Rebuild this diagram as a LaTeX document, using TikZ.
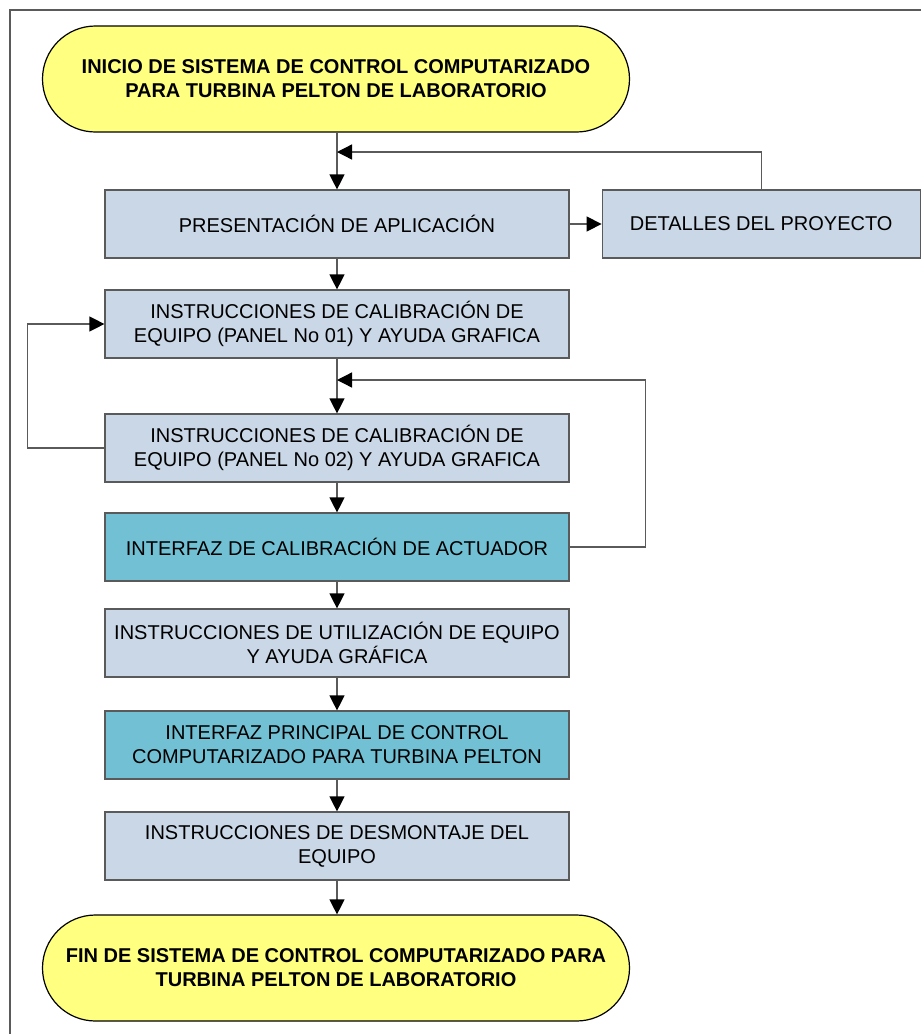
\documentclass[tikz,border=0pt]{standalone}
\usepackage{fontspec}
\setmainfont{Liberation Sans}
\usetikzlibrary{arrows.meta,positioning}

\definecolor{termyellow}{RGB}{255,255,128}
\definecolor{stepgray}{RGB}{202,215,230}
\definecolor{stepteal}{RGB}{114,192,212}
\definecolor{edgegray}{RGB}{90,90,90}

\tikzset{
  terminal/.style={draw=black, line width=1.2pt, fill=termyellow, rounded corners=53pt,
    minimum width=587pt, minimum height=106pt, align=center,
    font=\fontsize{20}{24}\selectfont\bfseries},
  stepbox/.style={draw=edgegray, line width=1.2pt, fill=stepgray,
    minimum width=464pt, minimum height=68pt, align=center,
    font=\fontsize{20}{24}\selectfont},
  interfaz/.style={stepbox, fill=stepteal},
  flow/.style={draw=edgegray, line width=1.3pt, -{Triangle[length=15pt,width=15pt,black]}},
  plain/.style={draw=edgegray, line width=1.3pt}
}

\begin{document}
\begin{tikzpicture}[x=1pt,y=-1pt]
\useasboundingbox (0,0) rectangle (921,1034);
\fill[white] (0,0) rectangle (921,1034);
\draw[edgegray, line width=1.5pt] (921,10) -- (10,10) -- (10,1034);

% main column
\node[terminal] (inicio) at (336,79) {INICIO DE SISTEMA DE CONTROL COMPUTARIZADO\\PARA TURBINA PELTON DE LABORATORIO};
\node[stepbox] (present) at (337,224) {PRESENTACIÓN DE APLICACIÓN};
\node[stepbox, minimum width=318pt, right=32pt of present] (detalles) {DETALLES DEL PROYECTO};
\node[stepbox] (panel1) at (337,324) {INSTRUCCIONES DE CALIBRACIÓN DE\\EQUIPO (PANEL No 01) Y AYUDA GRAFICA};
\node[stepbox] (panel2) at (337,448) {INSTRUCCIONES DE CALIBRACIÓN DE\\EQUIPO (PANEL No 02) Y AYUDA GRAFICA};
\node[interfaz] (actuador) at (337,547) {INTERFAZ DE CALIBRACIÓN DE ACTUADOR};
\node[stepbox] (uso) at (337,643) {INSTRUCCIONES DE UTILIZACIÓN DE EQUIPO\\Y AYUDA GRÁFICA};
\node[interfaz] (principal) at (337,745) {INTERFAZ PRINCIPAL DE CONTROL\\COMPUTARIZADO PARA TURBINA PELTON};
\node[stepbox] (desmontaje) at (337,846) {INSTRUCCIONES DE DESMONTAJE DEL\\EQUIPO};
\node[terminal] (fin) at (336,968) {FIN DE SISTEMA DE CONTROL COMPUTARIZADO PARA\\TURBINA PELTON DE LABORATORIO};

% junctions for the return lines
\coordinate (j1) at (337,152);
\coordinate (j2) at (337,380);

% straight arrows
\draw[flow] (present.south |- inicio.south) -- (present.north);
\draw[flow] (present.south) -- (panel1.north);
\draw[flow] (panel1.south) -- (panel2.north);
\draw[flow] (panel2.south) -- (actuador.north);
\draw[flow] (actuador.south) -- (uso.north);
\draw[flow] (uso.south) -- (principal.north);
\draw[flow] (principal.south) -- (desmontaje.north);
\draw[flow] (desmontaje.south) -- (fin.north -| desmontaje.south);
\draw[flow] (present.east) -- (detalles.west);

% return lines
\draw[flow] (detalles.north) |- (j1);
\draw[flow] (actuador.east) -- ++(76,0) |- (j2);
\draw[flow] (panel2.west) -- ++(-77,0) |- (panel1.west);
\end{tikzpicture}
\end{document}
